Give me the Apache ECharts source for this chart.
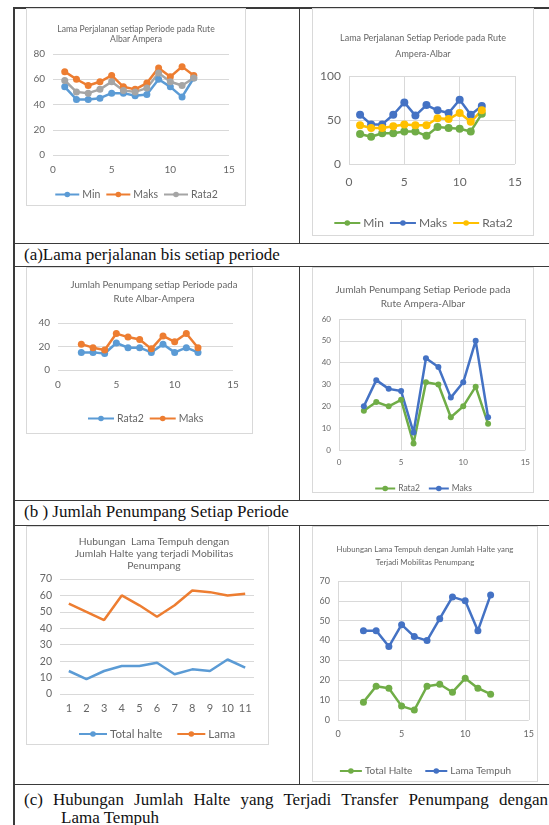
<!DOCTYPE html>
<html>
<head>
<meta charset="utf-8">
<script src="https://cdn.jsdelivr.net/npm/echarts@6/dist/echarts.min.js"></script>
<style>
  html, body { margin: 0; padding: 0; background: #fff; }
  #page { position: relative; width: 549px; height: 825px; overflow: hidden; }
  .rule { position: absolute; background: #3a3a3a; }
  .box { position: absolute; border: 1px solid #d9d9d9; box-sizing: border-box; background: #fff; }
  .cap { position: absolute; font-family: "Liberation Serif", serif; font-size: 17px; color: #111; white-space: nowrap; line-height: 18px; }
</style>
</head>
<body>
<div id="page">
  <!-- table frame -->
  <div class="rule" style="left:13px;top:7px;width:2px;height:818px"></div>
  <div class="rule" style="left:13px;top:7px;width:536px;height:2px"></div>
  <div class="rule" style="left:13px;top:243px;width:536px;height:1px"></div>
  <div class="rule" style="left:13px;top:266px;width:536px;height:1px"></div>
  <div class="rule" style="left:13px;top:500px;width:536px;height:1px"></div>
  <div class="rule" style="left:13px;top:525px;width:536px;height:1px"></div>
  <div class="rule" style="left:13px;top:784px;width:536px;height:1px"></div>
  <div class="rule" style="left:299px;top:7px;width:1px;height:236px"></div>
  <div class="rule" style="left:299px;top:266px;width:1px;height:234px"></div>
  <div class="rule" style="left:299px;top:525px;width:1px;height:259px"></div>

  <div class="box" id="c1" style="left:26px;top:8px;width:220px;height:198px"></div>
  <div class="box" id="c2" style="left:312px;top:8px;width:222px;height:228px"></div>
  <div class="box" id="c3" style="left:26px;top:267px;width:227px;height:167px"></div>
  <div class="box" id="c4" style="left:312px;top:267px;width:222px;height:226px"></div>
  <div class="box" id="c5" style="left:26px;top:526px;width:243px;height:219px"></div>
  <div class="box" id="c6" style="left:312px;top:526px;width:226px;height:256px"></div>

  <div class="cap" style="left:24px;top:246px">(a)Lama perjalanan bis setiap periode</div>
  <div class="cap" style="left:24px;top:503px">(b ) Jumlah Penumpang Setiap Periode</div>
  <div class="cap" style="left:24px;top:791px;width:524px;white-space:normal;text-align:justify;text-align-last:justify">(c) Hubungan Jumlah Halte yang Terjadi Transfer Penumpang dengan</div>
  <div class="cap" style="left:61px;top:809px">Lama Tempuh</div>
</div>

<script>
// (a) lama perjalanan, rute Albar-Ampera
const periodeA = [1, 2, 3, 4, 5, 6, 7, 8, 9, 10, 11, 12]
const albarMin = [54, 44, 44, 45, 49, 49, 47, 48, 60, 54, 46, 61]
const albarMaks = [66, 60, 55, 58, 63, 54, 52, 57, 69, 62, 70, 63]
const albarRata2 = [59, 50, 49, 52, 58, 51, 50, 53, 65, 58, 55, 61]

// (a) lama perjalanan, rute Ampera-Albar
const amperaMin = [34, 31, 35, 35, 37, 37, 32, 42, 41, 40, 37, 57]
const amperaMaks = [56, 45, 45, 56, 70, 55, 67, 61, 58, 73, 56, 66]
const amperaRata2 = [44, 41, 41, 43, 45, 44, 44, 52, 51, 58, 48, 61]

// (b) jumlah penumpang
const periodeB = [2, 3, 4, 5, 6, 7, 8, 9, 10, 11, 12]
const penAlbarRata2 = [15, 15, 14, 23, 19, 19, 15, 22, 15, 19, 15]
const penAlbarMaks = [22, 19, 17, 31, 28, 26, 18, 29, 24, 31, 19]
const penAmperaRata2 = [18, 22, 20, 23, 3, 31, 30, 15, 20, 29, 12]
const penAmperaMaks = [20, 32, 28, 27, 8, 42, 38, 24, 31, 50, 15]

// (c) halte vs lama tempuh
const halteKategori = ['1', '2', '3', '4', '5', '6', '7', '8', '9', '10', '11']
const totalHalte = [14, 9, 14, 17, 17, 19, 12, 15, 14, 21, 16]
const lama = [55, 50, 45, 60, 54, 47, 54, 63, 62, 60, 61]
const totalHalte2 = [9, 17, 16, 7, 5, 17, 18, 14, 21, 16, 13]
const lamaTempuh = [45, 45, 37, 48, 42, 40, 51, 62, 60, 45, 63]

const FONT = 'Lato, "Noto Sans", sans-serif'
const TEXT = '#666'
const GRID = '#d9d9d9'

const toPairs = (xs, ys) => xs.map((x, i) => [x, ys[i]])

const lineSeries = (name, data, color, symbolSize) => ({
  name,
  type: 'line',
  data,
  symbol: symbolSize ? 'circle' : 'none',
  symbolSize: symbolSize || 0,
  itemStyle: { color },
  lineStyle: { color, width: 2.5 },
  animation: false
})

const makeChart = (id, cfg) => {
  const chart = echarts.init(document.getElementById(id))
  const fs = cfg.fontSize
  chart.setOption({
    animation: false,
    title: {
      text: cfg.title,
      left: cfg.titleLeft || 'center',
      top: cfg.titleTop,
      textStyle: { fontFamily: FONT, fontSize: cfg.titleSize, fontWeight: 'normal', color: TEXT, lineHeight: cfg.titleLine },
      textAlign: cfg.titleLeft ? 'center' : undefined
    },
    legend: {
      top: cfg.legendTop,
      left: cfg.legendLeft || 'center',
      itemWidth: cfg.legendItem || 24,
      itemHeight: 7,
      itemGap: cfg.legendGap || 5,
      textStyle: { fontFamily: FONT, fontSize: cfg.legendSize || fs, color: TEXT, padding: [0, 0, 0, -2] }
    },
    grid: cfg.grid,
    xAxis: cfg.xAxis,
    yAxis: {
      type: 'value',
      min: 0,
      max: cfg.yMax,
      interval: cfg.yStep,
      axisLine: { show: false },
      axisTick: { show: false },
      axisLabel: { fontFamily: FONT, fontSize: fs, color: TEXT, margin: cfg.yMargin || 8 },
      splitLine: { lineStyle: { color: GRID, width: 1 } }
    },
    series: cfg.series
  })
  return chart
}

const valueX = (fs, gridX, margin) => ({
  type: 'value',
  min: 0,
  max: 15,
  interval: 5,
  axisLine: { show: false },
  axisTick: { show: false },
  axisLabel: { fontFamily: FONT, fontSize: fs, color: TEXT, margin: margin || 8 },
  splitLine: { show: gridX, lineStyle: { color: GRID, width: 1 } }
})

makeChart('c1', {
  title: 'Lama Perjalanan setiap Periode pada Rute\nAlbar Ampera',
  titleTop: 10, titleSize: 8.6, titleLine: 10,
  fontSize: 10,
  grid: { left: 26, top: 45, width: 176, height: 101 },
  xAxis: valueX(10, false, 10),
  yMax: 80, yStep: 20,
  legendTop: 175, legendSize: 10.5,
  series: [
    lineSeries('Min', toPairs(periodeA, albarMin), '#5b9bd5', 7),
    lineSeries('Maks', toPairs(periodeA, albarMaks), '#ed7d31', 7),
    lineSeries('Rata2', toPairs(periodeA, albarRata2), '#a5a5a5', 7)
  ]
})

makeChart('c2', {
  title: 'Lama Perjalanan Setiap Periode pada Rute\nAmpera-Albar',
  titleTop: 16, titleSize: 9, titleLine: 16,
  fontSize: 12,
  grid: { left: 36, top: 67, width: 166, height: 88 },
  xAxis: valueX(12, true, 12),
  yMax: 100, yStep: 50,
  legendTop: 203, legendItem: 26, legendSize: 12,
  series: [
    lineSeries('Min', toPairs(periodeA, amperaMin), '#70ad47', 8),
    lineSeries('Maks', toPairs(periodeA, amperaMaks), '#4472c4', 8),
    lineSeries('Rata2', toPairs(periodeA, amperaRata2), '#ffc000', 8)
  ]
})

makeChart('c3', {
  title: 'Jumlah Penumpang setiap Periode pada\nRute Albar-Ampera',
  titleTop: 5, titleSize: 9.6, titleLine: 14,
  titleLeft: 122,
  fontSize: 10,
  grid: { left: 31, top: 55, width: 175, height: 47 },
  xAxis: valueX(10, false, 10),
  yMax: 40, yStep: 20,
  legendTop: 140, legendLeft: 55, legendItem: 26, legendSize: 10.5,
  series: [
    lineSeries('Rata2', toPairs(periodeB, penAlbarRata2), '#5b9bd5', 7),
    lineSeries('Maks', toPairs(periodeB, penAlbarMaks), '#ed7d31', 7)
  ]
})

makeChart('c4', {
  title: 'Jumlah Penumpang Setiap Periode pada\nRute Ampera-Albar',
  titleTop: 10, titleSize: 10, titleLine: 14,
  fontSize: 8,
  grid: { left: 26, top: 51, width: 190, height: 131 },
  xAxis: valueX(8, true, 8),
  yMax: 60, yStep: 10,
  legendTop: 211, legendItem: 20, legendSize: 8.5, legendGap: 8,
  series: [
    lineSeries('Rata2', toPairs(periodeB, penAmperaRata2), '#70ad47', 6),
    lineSeries('Maks', toPairs(periodeB, penAmperaMaks), '#4472c4', 6)
  ]
})

makeChart('c5', {
  title: 'Hubungan  Lama Tempuh dengan\nJumlah Halte yang terjadi Mobilitas\nPenumpang',
  titleTop: 4, titleSize: 10.3, titleLine: 12,
  titleLeft: 122,
  fontSize: 10.5,
  grid: { left: 33, top: 52, width: 194, height: 115 },
  xAxis: {
    type: 'category',
    data: halteKategori,
    axisLine: { show: false },
    axisTick: { show: false },
    axisLabel: { fontFamily: FONT, fontSize: 11, color: TEXT, margin: 9 }
  },
  yMax: 70, yStep: 10,
  legendTop: 196, legendLeft: 46, legendItem: 28, legendSize: 11.5, legendGap: 14,
  series: [
    lineSeries('Total halte', totalHalte, '#5b9bd5', 0),
    lineSeries('Lama', lama, '#ed7d31', 0)
  ]
})

makeChart('c6', {
  title: 'Hubungan Lama Tempuh dengan Jumlah Halte yang\nTerjadi Mobilitas Penumpang',
  titleTop: 11, titleSize: 7.8, titleLine: 13,
  fontSize: 9,
  grid: { left: 25, top: 54, width: 194, height: 139 },
  xAxis: valueX(9, true, 10),
  yMax: 70, yStep: 10,
  legendTop: 234, legendItem: 22, legendSize: 10, legendGap: 12,
  series: [
    lineSeries('Total Halte', toPairs(periodeB, totalHalte2), '#70ad47', 7),
    lineSeries('Lama Tempuh', toPairs(periodeB, lamaTempuh), '#4472c4', 7)
  ]
})
</script>
</body>
</html>
